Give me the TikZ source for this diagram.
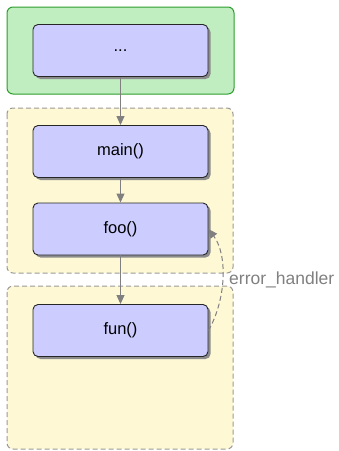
\documentclass[tikz,border=0pt]{standalone}
\usepackage{fontspec}
\setmainfont{Liberation Sans}
\usetikzlibrary{arrows.meta}
\definecolor{boxfill}{HTML}{CCCCFF}
\definecolor{grpgreen}{HTML}{C0EEC0}
\definecolor{grpgreenline}{HTML}{2E9E2E}
\definecolor{grpyellow}{HTML}{FEF9D4}
\definecolor{dashgray}{HTML}{999999}
\definecolor{arrgray}{HTML}{808080}
\tikzset{
  fn/.style={draw=black!85, line width=0.9pt, fill=boxfill, rounded corners=5pt,
    minimum width=175pt, minimum height=52pt, inner sep=0pt,
    font=\fontsize{16.5}{19}\selectfont,
    preaction={draw=none, fill=black!45, rounded corners=5pt, transform canvas={shift={(2.5pt,-2.5pt)}}}},
  greengrp/.style={draw=grpgreenline, line width=1pt, fill=grpgreen, rounded corners=6pt},
  yellowgrp/.style={draw=dashgray, line width=1pt, dash pattern=on 5pt off 3pt, fill=grpyellow, rounded corners=6pt},
  flow/.style={draw=arrgray, line width=1pt, -{Triangle[length=9pt,width=8pt]}},
  errflow/.style={draw=arrgray, line width=1pt, dash pattern=on 5pt off 3pt, -{Triangle[length=9pt,width=8pt]}},
}
\begin{document}
\begin{tikzpicture}[x=1pt,y=-1pt]
\useasboundingbox (0,0) rectangle (339,451);
\path[greengrp] (7,7) rectangle (234,94);
\path[yellowgrp] (7,108) rectangle (233,273);
\path[yellowgrp] (7,286) rectangle (233,449);
\node[fn] (dots) at (120.5,50.5) {...};
\node[fn] (main) at (120.5,151.5) {main()};
\node[fn] (foo) at (120.5,229) {foo()};
\node[fn] (fun) at (120.5,330.5) {fun()};
\draw[flow] (dots) -- (main);
\draw[flow] (main) -- (foo);
\draw[flow] (foo) -- (fun);
\draw[errflow] (fun.east) .. controls (226,300) and (228,255) .. (foo.east);
\node[anchor=west, text=arrgray, font=\fontsize{17.5}{20}\selectfont, inner sep=0pt] (lbl) at (229,279.5) {error\_handler};
\end{tikzpicture}
\end{document}
